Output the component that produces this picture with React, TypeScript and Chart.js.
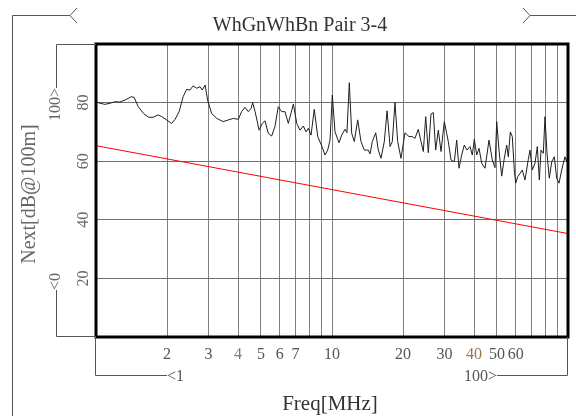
import React, { useEffect, useRef } from "react";
import { Chart, registerables } from "chart.js";

Chart.register(...registerables);

const TITLE = "WhGnWhBn Pair 3-4";
const X_TITLE = "Freq[MHz]";
const Y_TITLE = "Next[dB@100m]";
const X_MIN_LABEL = "<1";
const X_MAX_LABEL = "100>";
const Y_MIN_LABEL = "<0";
const Y_MAX_LABEL = "100>";

const X_GRID = [1, 2, 3, 4, 5, 6, 7, 8, 9, 10, 20, 30, 40, 50, 60, 70, 80, 90, 100];
const X_TICK_LABELS = [2, 3, 4, 5, 6, 7, 10, 20, 30, 40, 50, 60];
const X_ACCENT_LABELS = [4, 40];
const Y_TICK_LABELS = [20, 40, 60, 80];

const FREQ_MHZ = [
  1.0, 1.01, 1.04, 1.09, 1.15, 1.2, 1.26, 1.33, 1.41, 1.45, 1.51, 1.59, 1.67, 1.75, 1.83, 1.9, 1.99,
  2.09, 2.16, 2.25, 2.34, 2.42, 2.5, 2.58, 2.67, 2.76, 2.82, 2.9, 2.97, 3.09, 3.25, 3.46, 3.64, 3.82,
  4.01, 4.14, 4.28, 4.42, 4.54, 4.61, 4.72, 4.91, 5.07, 5.2, 5.37, 5.55, 5.73, 5.92, 6.12, 6.32, 6.53,
  6.7, 6.86, 7.09, 7.32, 7.56, 7.76, 7.94, 8.15, 8.41, 8.7, 9.05, 9.34, 9.59, 9.81, 10.03, 10.3, 10.71,
  10.99, 11.35, 11.57, 11.84, 12.12, 12.43, 12.85, 13.27, 13.71, 14.25, 14.49, 14.82, 15.32, 15.71,
  16.13, 16.66, 17.11, 17.62, 18.01, 18.49, 18.98, 19.6, 20.38, 21.2, 21.89, 22.47, 23.21, 23.83,
  24.37, 24.95, 25.59, 26.27, 26.87, 27.5, 28.21, 28.97, 29.92, 30.62, 31.11, 31.93, 32.98, 33.76,
  34.52, 35.44, 36.36, 37.33, 38.44, 39.31, 40.09, 41.03, 41.97, 43.09, 44.5, 46.27, 47.78, 49.06,
  49.88, 51.01, 52.37, 53.72, 55.0, 55.85, 56.96, 58.07, 59.22, 60.03, 61.22, 62.6, 64.03, 65.73,
  67.88, 69.02, 70.58, 72.47, 74.13, 75.59, 76.86, 78.6, 79.91, 81.47, 83.33, 85.3, 87.49, 89.57,
  91.6, 94.03, 95.52, 97.12, 98.74, 100,
];

const NEXT_DB = [
  80.0, 80.1, 79.8, 79.4, 79.8, 80.3, 80.2, 80.9, 82.0, 81.8, 78.6, 76.3, 75.0, 75.0, 75.8, 75.2, 74.1,
  72.9, 74.2, 76.9, 82.0, 84.5, 84.3, 85.7, 84.9, 85.4, 84.3, 86.0, 80.9, 76.3, 74.6, 73.5, 74.1, 74.6,
  74.3, 76.9, 78.4, 76.9, 78.0, 80.0, 77.0, 70.6, 72.9, 73.8, 69.5, 68.6, 71.8, 78.6, 76.9, 76.9, 72.9,
  76.3, 79.5, 72.9, 70.6, 72.0, 70.0, 71.2, 68.9, 77.7, 68.4, 65.2, 62.1, 63.8, 67.2, 82.6, 70.0, 66.3,
  68.9, 70.9, 69.7, 86.8, 69.5, 66.7, 74.1, 66.7, 63.8, 63.8, 62.5, 66.7, 69.7, 63.8,
  61.0, 66.7, 77.2, 65.0, 66.7, 80.0, 66.7, 61.0, 69.7, 68.4, 68.4, 67.8, 70.9, 66.7,
  63.3, 75.2, 62.9, 76.1, 76.6, 63.8, 70.6, 63.3, 73.5, 69.5, 66.7, 60.4, 59.8, 67.2,
  57.6, 62.1, 65.5, 63.8, 65.0, 62.1, 67.5, 62.1, 64.4, 59.3, 57.6, 67.2, 60.4, 57.8,
  73.5, 63.8, 54.9, 61.0, 65.5, 61.5, 70.0, 68.4, 57.0, 52.5, 54.7, 55.8, 57.0, 53.6,
  60.6, 63.8, 57.0, 59.3, 65.0, 53.6, 63.8, 62.7, 75.2, 62.7, 54.2, 59.8, 61.5, 54.2,
  52.5, 57.0, 59.3, 61.5, 59.8, 62.0,
];

const LIMIT_FREQ = [1, 10, 100];
const LIMIT_DB = [65.3, 50.3, 35.3];

const FONT = '"Liberation Serif", "Times New Roman", serif';

const decorPlugin = {
  id: "decor",
  afterDraw(chart: any) {
    const { ctx, chartArea: a, scales } = chart;
    const xs = scales.x;
    const ys = scales.y;
    ctx.save();

    // thick plot frame
    ctx.strokeStyle = "#000";
    ctx.lineWidth = 3;
    ctx.strokeRect(a.left, a.top, a.right - a.left, a.bottom - a.top);

    // bracket lines
    ctx.strokeStyle = "#555";
    ctx.lineWidth = 1;
    ctx.beginPath();
    // title bracket
    ctx.moveTo(12.5, 416);
    ctx.lineTo(12.5, 15.5);
    ctx.lineTo(70, 15.5);
    ctx.moveTo(77, 8);
    ctx.lineTo(70, 15.5);
    ctx.lineTo(77, 23);
    ctx.moveTo(523, 8);
    ctx.lineTo(530, 15.5);
    ctx.lineTo(523, 23);
    ctx.moveTo(530, 15.5);
    ctx.lineTo(576, 15.5);
    // y bracket
    ctx.moveTo(a.left, a.top + 0.5);
    ctx.lineTo(56.5, a.top + 0.5);
    ctx.lineTo(56.5, 88);
    ctx.moveTo(56.5, 290);
    ctx.lineTo(56.5, a.bottom - 0.5);
    ctx.lineTo(a.left, a.bottom - 0.5);
    // x bracket
    ctx.moveTo(a.left - 0.5, a.bottom);
    ctx.lineTo(a.left - 0.5, 375.5);
    ctx.lineTo(167, 375.5);
    ctx.moveTo(497, 375.5);
    ctx.lineTo(a.right - 0.5, 375.5);
    ctx.lineTo(a.right - 0.5, a.bottom);
    ctx.stroke();

    // title
    ctx.fillStyle = "#333";
    ctx.font = `20px ${FONT}`;
    ctx.textAlign = "center";
    ctx.textBaseline = "alphabetic";
    ctx.fillText(TITLE, 300, 31);

    // x tick labels
    ctx.font = `16px ${FONT}`;
    X_TICK_LABELS.forEach((v) => {
      ctx.fillStyle = X_ACCENT_LABELS.includes(v) ? "#9a7552" : "#555";
      ctx.fillText(String(v), xs.getPixelForValue(v), a.bottom + 22);
    });
    ctx.fillStyle = "#555";
    ctx.textAlign = "left";
    ctx.fillText(X_MIN_LABEL, 167, 381);
    ctx.textAlign = "right";
    ctx.fillText(X_MAX_LABEL, 497, 381);

    // x title
    ctx.fillStyle = "#333";
    ctx.font = `21px ${FONT}`;
    ctx.textAlign = "center";
    ctx.fillText(X_TITLE, 330, 410);

    // y tick labels (rotated)
    ctx.fillStyle = "#666";
    ctx.font = `16px ${FONT}`;
    Y_TICK_LABELS.forEach((v) => {
      ctx.save();
      ctx.translate(84, ys.getPixelForValue(v));
      ctx.rotate(-Math.PI / 2);
      ctx.textAlign = "center";
      ctx.textBaseline = "middle";
      ctx.fillText(String(v), 0, 0);
      ctx.restore();
    });
    ctx.save();
    ctx.translate(56, 88);
    ctx.rotate(-Math.PI / 2);
    ctx.textAlign = "right";
    ctx.textBaseline = "middle";
    ctx.fillText(Y_MAX_LABEL, 0, 0);
    ctx.restore();
    ctx.save();
    ctx.translate(56, 290);
    ctx.rotate(-Math.PI / 2);
    ctx.textAlign = "left";
    ctx.textBaseline = "middle";
    ctx.fillText(Y_MIN_LABEL, 0, 0);
    ctx.restore();

    // y title
    ctx.save();
    ctx.fillStyle = "#666";
    ctx.font = `20px ${FONT}`;
    ctx.translate(30, 194);
    ctx.rotate(-Math.PI / 2);
    ctx.textAlign = "center";
    ctx.textBaseline = "middle";
    ctx.fillText(Y_TITLE, 0, 0);
    ctx.restore();

    ctx.restore();
  },
};

export default function App() {
  const ref = useRef<HTMLCanvasElement | null>(null);

  useEffect(() => {
    if (!ref.current) return;
    const chart = new Chart(ref.current, {
      type: "line",
      data: {
        datasets: [
          {
            data: FREQ_MHZ.map((f, i) => ({ x: f, y: NEXT_DB[i] })),
            borderColor: "#1e1e1e",
            borderWidth: 1,
            pointRadius: 0,
            tension: 0,
          },
          {
            data: LIMIT_FREQ.map((f, i) => ({ x: f, y: LIMIT_DB[i] })),
            borderColor: "#ff0000",
            borderWidth: 1,
            pointRadius: 0,
            tension: 0,
          },
        ],
      },
      options: {
        responsive: false,
        animation: false,
        events: [],
        layout: { padding: { left: 96, top: 44, right: 8, bottom: 79 } },
        plugins: {
          legend: { display: false },
          tooltip: { enabled: false },
          title: { display: false },
        },
        scales: {
          x: {
            type: "logarithmic",
            min: 1,
            max: 100,
            afterBuildTicks: (s: any) => {
              s.ticks = X_GRID.map((v) => ({ value: v }));
            },
            ticks: { display: false },
            grid: { color: "#7f7f7f", lineWidth: 1, drawTicks: false },
            border: { display: false },
          },
          y: {
            type: "linear",
            min: 0,
            max: 100,
            ticks: { display: false, stepSize: 20 },
            grid: { color: "#6f6f6f", lineWidth: 1, drawTicks: false },
            border: { display: false },
          },
        },
      },
      plugins: [decorPlugin],
    });
    return () => chart.destroy();
  }, []);

  return (
    <div style={{ position: "fixed", left: 0, top: 0, width: 576, height: 416, background: "#fff" }}>
      <canvas ref={ref} width={576} height={416} style={{ display: "block" }} />
    </div>
  );
}
